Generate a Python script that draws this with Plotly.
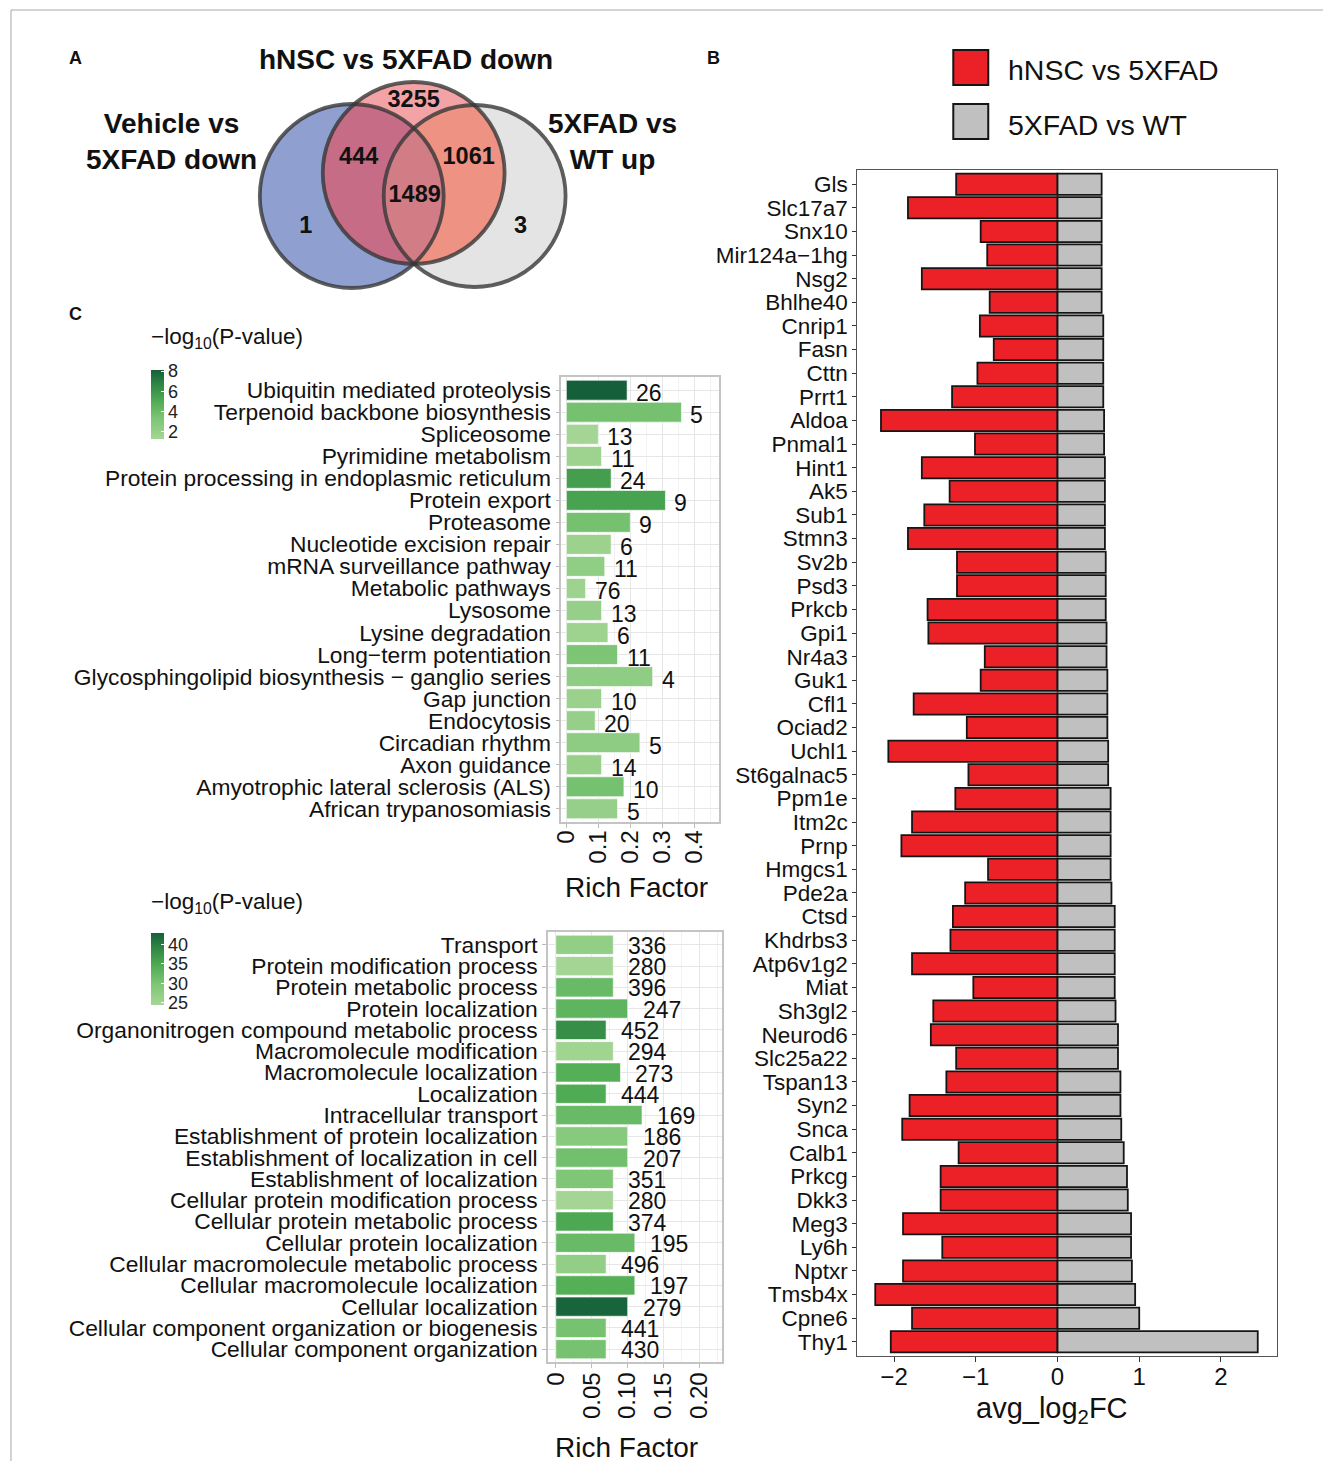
import numpy as np
import plotly.graph_objects as go

W, H = 1323, 1461
FONT = "Arial, Liberation Sans, Helvetica, sans-serif"

# ---------------- Panel A (Venn) data ----------------
venn_set_names = ["Vehicle vs<br>5XFAD down", "hNSC vs 5XFAD down", "5XFAD vs<br>WT up"]
venn_counts = [3255, 444, 1061, 1489, 1, 3]

# ---------------- Panel B data ----------------
genes = ["Gls", "Slc17a7", "Snx10", "Mir124a−1hg", "Nsg2", "Bhlhe40", "Cnrip1", "Fasn", "Cttn", "Prrt1",
         "Aldoa", "Pnmal1", "Hint1", "Ak5", "Sub1", "Stmn3", "Sv2b", "Psd3", "Prkcb", "Gpi1",
         "Nr4a3", "Guk1", "Cfl1", "Ociad2", "Uchl1", "St6galnac5", "Ppm1e", "Itm2c", "Prnp", "Hmgcs1",
         "Pde2a", "Ctsd", "Khdrbs3", "Atp6v1g2", "Miat", "Sh3gl2", "Neurod6", "Slc25a22", "Tspan13", "Syn2",
         "Snca", "Calb1", "Prkcg", "Dkk3", "Meg3", "Ly6h", "Nptxr", "Tmsb4x", "Cpne6", "Thy1"]
hnsc_vs_5xfad = [-1.24, -1.83, -0.94, -0.86, -1.66, -0.83, -0.95, -0.78, -0.98, -1.29,
                 -2.16, -1.01, -1.66, -1.32, -1.63, -1.83, -1.23, -1.23, -1.59, -1.58,
                 -0.89, -0.94, -1.76, -1.11, -2.07, -1.09, -1.25, -1.78, -1.91, -0.85,
                 -1.13, -1.28, -1.31, -1.78, -1.03, -1.52, -1.55, -1.24, -1.36, -1.81,
                 -1.90, -1.21, -1.43, -1.43, -1.89, -1.41, -1.89, -2.23, -1.78, -2.04]
fad_vs_wt = [0.54, 0.54, 0.54, 0.54, 0.54, 0.54, 0.56, 0.56, 0.56, 0.56,
             0.57, 0.57, 0.58, 0.58, 0.58, 0.58, 0.59, 0.59, 0.59, 0.60,
             0.60, 0.61, 0.61, 0.61, 0.62, 0.62, 0.65, 0.65, 0.65, 0.65,
             0.66, 0.70, 0.70, 0.70, 0.70, 0.71, 0.74, 0.74, 0.77, 0.77,
             0.78, 0.81, 0.85, 0.86, 0.90, 0.90, 0.91, 0.95, 1.00, 2.45]
legend_names = ["hNSC vs 5XFAD", "5XFAD vs WT"]

# ---------------- Panel C (KEGG) data ----------------
kegg_terms = ["Ubiquitin mediated proteolysis", "Terpenoid backbone biosynthesis", "Spliceosome",
              "Pyrimidine metabolism", "Protein processing in endoplasmic reticulum", "Protein export",
              "Proteasome", "Nucleotide excision repair", "mRNA surveillance pathway", "Metabolic pathways",
              "Lysosome", "Lysine degradation", "Long−term potentiation",
              "Glycosphingolipid biosynthesis − ganglio series", "Gap junction", "Endocytosis",
              "Circadian rhythm", "Axon guidance", "Amyotrophic lateral sclerosis (ALS)",
              "African trypanosomiasis"]
kegg_rich = [0.19, 0.36, 0.10, 0.11, 0.14, 0.31, 0.20, 0.14, 0.12, 0.06,
             0.11, 0.13, 0.16, 0.27, 0.11, 0.09, 0.23, 0.11, 0.18, 0.16]
kegg_count = [26, 5, 13, 11, 24, 9, 9, 6, 11, 76, 13, 6, 11, 4, 10, 20, 5, 14, 10, 5]
kegg_logp = [8.1, 3.6, 1.4, 1.7, 5.6, 5.4, 3.6, 1.8, 2.3, 1.7,
             2.1, 1.7, 3.3, 2.4, 1.9, 2.1, 2.5, 2.0, 3.6, 2.1]

# ---------------- Panel C (GO) data ----------------
go_terms = ["Transport", "Protein modification process", "Protein metabolic process", "Protein localization",
            "Organonitrogen compound metabolic process", "Macromolecule modification",
            "Macromolecule localization", "Localization", "Intracellular transport",
            "Establishment of protein localization", "Establishment of localization in cell",
            "Establishment of localization", "Cellular protein modification process",
            "Cellular protein metabolic process", "Cellular protein localization",
            "Cellular macromolecule metabolic process", "Cellular macromolecule localization",
            "Cellular localization", "Cellular component organization or biogenesis",
            "Cellular component organization"]
go_rich = [0.08, 0.08, 0.08, 0.10, 0.07, 0.08, 0.09, 0.07, 0.12, 0.10,
           0.10, 0.08, 0.08, 0.08, 0.11, 0.07, 0.11, 0.10, 0.07, 0.07]
go_count = [336, 280, 396, 247, 452, 294, 273, 444, 169, 186, 207, 351, 280, 374, 195, 496, 197, 279, 441, 430]
go_logp = [27, 24.6, 32, 33, 38, 25.2, 34, 34.5, 32, 28.5,
           31, 29.5, 24.6, 35, 32, 27, 34, 42.5, 30.5, 30.5]

GREENS = [[0.0, "#a6d696"], [0.3, "#7cc574"], [0.55, "#4fab53"], [0.8, "#2e8543"], [1.0, "#15603a"]]


def px_x(x):
    # horizontal page position (px) -> paper fraction
    return (x - 8) / 1315


def px_y(y):
    return 1 - y / H


fig = go.Figure()

# ---- Panel B bars ----
fig.add_trace(go.Bar(x=hnsc_vs_5xfad, y=genes, orientation="h", width=0.9, name=legend_names[0],
                     marker=dict(color="#ec2027", line=dict(color="#151515", width=1.8)),
                     xaxis="x", yaxis="y", showlegend=False))
fig.add_trace(go.Bar(x=fad_vs_wt, y=genes, orientation="h", width=0.9, name=legend_names[1],
                     marker=dict(color="#c0c0c0", line=dict(color="#151515", width=1.8)),
                     xaxis="x", yaxis="y", showlegend=False))

# ---- KEGG bars ----
fig.add_trace(go.Bar(x=kegg_rich, y=kegg_terms, orientation="h", width=0.9, xaxis="x2", yaxis="y2",
                     showlegend=False,
                     marker=dict(color=kegg_logp, colorscale=GREENS, cmin=1.3, cmax=8.1,
                                 line=dict(color="white", width=0.6),
                                 colorbar=dict(x=px_x(150), xanchor="left", y=px_y(404.5), yanchor="middle",
                                               len=69 / H, lenmode="fraction", thickness=13,
                                               xpad=0, ypad=0, outlinewidth=0,
                                               tickvals=[2, 4, 6, 8], ticks="inside", ticklen=3,
                                               tickcolor="white", tickfont=dict(size=18, color="#222", family=FONT)))))

# ---- GO bars ----
fig.add_trace(go.Bar(x=go_rich, y=go_terms, orientation="h", width=0.9, xaxis="x3", yaxis="y3",
                     showlegend=False,
                     marker=dict(color=go_logp, colorscale=GREENS, cmin=24.4, cmax=43,
                                 line=dict(color="white", width=0.6),
                                 colorbar=dict(x=px_x(150), xanchor="left", y=px_y(969), yanchor="middle",
                                               len=72 / H, lenmode="fraction", thickness=13,
                                               xpad=0, ypad=0, outlinewidth=0,
                                               tickvals=[25, 30, 35, 40], ticks="inside", ticklen=3,
                                               tickcolor="white", tickfont=dict(size=18, color="#222", family=FONT)))))

# ---- Venn count labels (hidden axis x4/y4 in pixel units) ----
venn_label_xy = [(413, 101), (358, 158), (468, 158), (414, 196), (305, 227), (520, 227)]
fig.add_trace(go.Scatter(x=[p[0] for p in venn_label_xy], y=[p[1] for p in venn_label_xy],
                         text=[f"<b>{c}</b>" for c in venn_counts], mode="text",
                         textfont=dict(size=23.5, color="#111", family=FONT),
                         xaxis="x4", yaxis="y4", showlegend=False, hoverinfo="skip"))

shapes = []
# Venn geometry (pixel units on x4/y4)
circles = [(351, 196, 92), (413, 173, 91), (474, 196, 91)]
fill_single = ["#8e9fd0", "#f3a3a6", "#e4e4e4"]


def region_path(idx):
    t = np.linspace(0, 2 * np.pi, 1441)[:-1]
    pts = []
    for i in idx:
        cx, cy, r = circles[i]
        px = cx + r * np.cos(t)
        py = cy + r * np.sin(t)
        mask = np.ones_like(t, dtype=bool)
        for j in idx:
            if j == i:
                continue
            cx2, cy2, r2 = circles[j]
            mask &= (px - cx2) ** 2 + (py - cy2) ** 2 <= r2 ** 2 + 1e-6
        pts.append(np.c_[px[mask], py[mask]])
    pts = np.vstack(pts)
    c = pts.mean(axis=0)
    ang = np.arctan2(pts[:, 1] - c[1], pts[:, 0] - c[0])
    pts = pts[np.argsort(ang)]
    return "M " + " L ".join(f"{x:.2f},{y:.2f}" for x, y in pts) + " Z"


for (cx, cy, r), col in zip(circles, fill_single):
    shapes.append(dict(type="circle", xref="x4", yref="y4", x0=cx - r, x1=cx + r, y0=cy - r, y1=cy + r,
                       fillcolor=col, line=dict(width=0), layer="below"))
for idx, col in [((0, 1), "#c76c87"), ((1, 2), "#ee9283"), ((0, 2), "#a8a9c6"), ((0, 1, 2), "#d27d85")]:
    shapes.append(dict(type="path", xref="x4", yref="y4", path=region_path(idx), fillcolor=col,
                       line=dict(width=0), layer="below"))
for (cx, cy, r) in circles:
    shapes.append(dict(type="circle", xref="x4", yref="y4", x0=cx - r, x1=cx + r, y0=cy - r, y1=cy + r,
                       fillcolor="rgba(0,0,0,0)", line=dict(color="rgba(55,55,55,0.8)", width=3.8)))

# Figure frame lines
shapes.append(dict(type="line", xref="paper", yref="paper", x0=px_x(10), x1=1, y0=px_y(10), y1=px_y(10),
                   line=dict(color="#a8a8a8", width=1)))
shapes.append(dict(type="line", xref="paper", yref="paper", x0=px_x(10), x1=px_x(10), y0=px_y(10), y1=0,
                   line=dict(color="#a8a8a8", width=1)))

# Panel B legend keys
for (y0, y1), col in zip([(50, 85), (104, 139)], ["#ec2027", "#c0c0c0"]):
    shapes.append(dict(type="rect", xref="paper", yref="paper", x0=px_x(953), x1=px_x(988),
                       y0=px_y(y1), y1=px_y(y0), fillcolor=col, line=dict(color="#151515", width=2)))

annotations = []


def ann(text, x, y, size, xanchor="center", yanchor="middle", bold=False, color="#111"):
    annotations.append(dict(text=f"<b>{text}</b>" if bold else text, x=px_x(x), y=px_y(y),
                            xref="paper", yref="paper", showarrow=False, xanchor=xanchor, yanchor=yanchor,
                            font=dict(size=size, color=color, family=FONT)))


# Panel letters
ann("A", 75, 58, 18, bold=True)
ann("B", 713, 58, 18, bold=True)
ann("C", 75, 314, 18, bold=True)

# Venn set titles
ann(venn_set_names[1], 405, 60, 28, bold=True)
ann("<b>Vehicle vs</b><br><b>5XFAD down</b>", 171, 141, 28)
ann("<b>5XFAD vs</b><br><b>WT up</b>", 612, 141, 28)

# Panel B legend text and axis title
ann(legend_names[0], 1006, 70, 28.5, xanchor="left")
ann(legend_names[1], 1006, 125, 28.5, xanchor="left")
ann("avg_log<sub>2</sub>FC", 1052, 1410, 29)

# Colorbar titles and Rich Factor titles
ann("−log<sub>10</sub>(P-value)", 148, 338, 22.5, xanchor="left")
ann("−log<sub>10</sub>(P-value)", 148, 903, 22.5, xanchor="left")
ann("Rich Factor", 636, 887, 28)
ann("Rich Factor", 626, 1447, 28)

# Count labels next to bars
for xv, term, cnt in zip(kegg_rich, kegg_terms, kegg_count):
    annotations.append(dict(text=str(cnt), x=xv, y=term, xref="x2", yref="y2", showarrow=False,
                            xanchor="left", yanchor="middle", xshift=7, yshift=-3,
                            font=dict(size=23, color="#111", family=FONT)))
for xv, term, cnt in zip(go_rich, go_terms, go_count):
    annotations.append(dict(text=str(cnt), x=xv, y=term, xref="x3", yref="y3", showarrow=False,
                            xanchor="left", yanchor="middle", xshift=13, yshift=-1,
                            font=dict(size=23, color="#111", family=FONT)))

tick_txt = dict(family=FONT, color="#111")


def cat_axis(cats, domain, anchor, size, tickcolor, grid, linecolor, linewidth):
    return dict(domain=domain, anchor=anchor, type="category", categoryorder="array", categoryarray=cats,
                tickmode="array", tickvals=cats, ticktext=cats,
                range=[len(cats) - 0.4, -0.6], ticks="outside", ticklen=4, tickcolor=tickcolor,
                tickfont=dict(size=size, **tick_txt), showgrid=grid, gridcolor="#e6e6e6", gridwidth=1.2,
                zeroline=False, showline=True, mirror=True, linecolor=linecolor, linewidth=linewidth)


fig.update_layout(
    width=W, height=H, margin=dict(l=0, r=0, t=0, b=0),
    paper_bgcolor="white", plot_bgcolor="white",
    barmode="overlay", font=dict(family=FONT, color="#111"),
    shapes=shapes, annotations=annotations,
    xaxis=dict(domain=[px_x(857), px_x(1277)], anchor="y", range=[-2.449, 2.686],
               tickvals=[-2, -1, 0, 1, 2], ticks="outside", ticklen=5, tickcolor="#333",
               tickfont=dict(size=24, **tick_txt), showgrid=False, zeroline=False, ticklabelstandoff=-6,
               showline=True, mirror=True, linecolor="#555", linewidth=1.2),
    yaxis=cat_axis(genes, [px_y(1356), px_y(170)], "x", 22.5, "#333", False, "#555", 1.2),
    xaxis2=dict(domain=[px_x(560.7), px_x(719)], anchor="y2", range=[-0.016, 0.479],
                tickvals=[0, 0.1, 0.2, 0.3, 0.4], ticktext=["0", "0.1", "0.2", "0.3", "0.4"],
                tickangle=-90, ticks="outside", ticklen=4, tickcolor="#bbb", ticklabelstandoff=-7,
                tickfont=dict(size=24, **tick_txt), showgrid=True, gridcolor="#e6e6e6", gridwidth=1.2,
                minor=dict(tickvals=[0.05, 0.15, 0.25, 0.35, 0.45], showgrid=True, gridcolor="#f2f2f2"),
                zeroline=False, showline=True, mirror=True, linecolor="#c4c4c4", linewidth=1.5),
    yaxis2=cat_axis(kegg_terms, [px_y(822), px_y(377)], "x2", 22.8, "#bbb", True, "#c4c4c4", 1.5),
    xaxis3=dict(domain=[px_x(547.3), px_x(721.7)], anchor="y3", range=[-0.011, 0.2315],
                tickvals=[0, 0.05, 0.10, 0.15, 0.20], ticktext=["0", "0.05", "0.10", "0.15", "0.20"],
                tickangle=-90, ticks="outside", ticklen=4, tickcolor="#bbb", ticklabelstandoff=-5,
                tickfont=dict(size=24, **tick_txt), showgrid=True, gridcolor="#e6e6e6", gridwidth=1.2,
                minor=dict(tickvals=[0.025, 0.075, 0.125, 0.175, 0.225], showgrid=True, gridcolor="#f2f2f2"),
                zeroline=False, showline=True, mirror=True, linecolor="#c4c4c4", linewidth=1.5),
    yaxis3=cat_axis(go_terms, [px_y(1362), px_y(932)], "x3", 22.8, "#bbb", True, "#c4c4c4", 1.5),
    xaxis4=dict(domain=[px_x(60), px_x(700)], anchor="y4", range=[60, 700], visible=False),
    yaxis4=dict(domain=[px_y(300), px_y(40)], anchor="x4", range=[300, 40], visible=False),
)

fig.write_html("out.html", config={"displayModeBar": False},
               post_script="document.body.style.margin='0px';")
